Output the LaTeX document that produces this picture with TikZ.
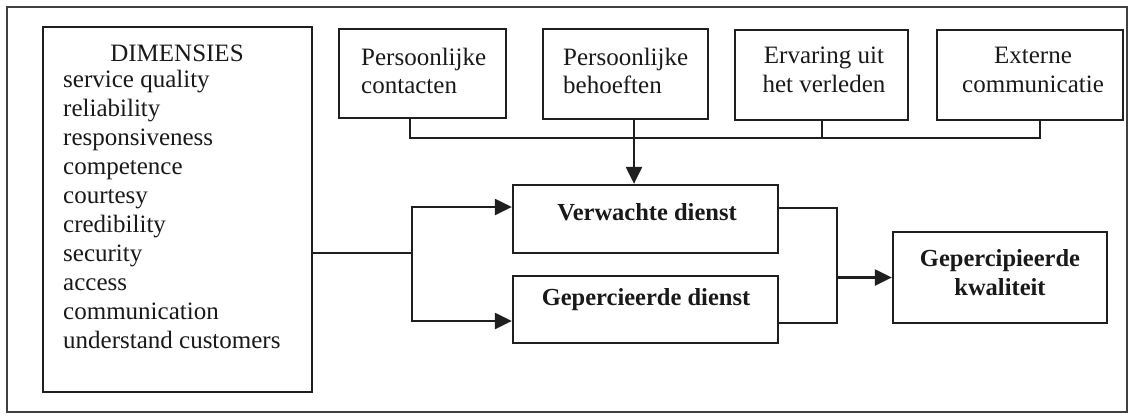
\documentclass[tikz,border=0pt]{standalone}
\usepackage{fontspec}
\setmainfont{Liberation Serif}
\usetikzlibrary{arrows.meta}
\begin{document}
\begin{tikzpicture}[x=1pt,y=-1pt,
  box/.style={draw=black!88,line width=2.3pt,rectangle,inner sep=0pt},
  txt/.style={inner sep=0pt,font=\fontsize{25}{28.5}\selectfont,text=black!90},
  btxt/.style={txt,font=\fontsize{24.5}{28.5}\selectfont\bfseries},
  link/.style={draw=black!88,line width=2.3pt},
  arr/.style={link,-{Triangle[length=17pt,width=16pt]}}]
\useasboundingbox (0,0) rectangle (1130,416);
% outer frame
\draw[draw=black!75,line width=2.3pt] (7,7) rectangle (1127,412);

% boxes
\node[box,minimum width=269pt,minimum height=365pt] (dim) at (177.5,209.5) {};
\node[box,minimum width=167pt,minimum height=89pt] (pc) at (422.5,73.5) {};
\node[box,minimum width=165pt,minimum height=90pt] (pb) at (625.5,74) {};
\node[box,minimum width=173pt,minimum height=90pt] (ev) at (821.5,75) {};
\node[box,minimum width=186pt,minimum height=90pt] (ec) at (1030,75) {};
\node[box,minimum width=265pt,minimum height=68pt] (vd) at (645.5,219) {};
\node[box,minimum width=265pt,minimum height=67pt] (gd) at (645.5,309.5) {};
\node[box,minimum width=214pt,minimum height=91pt] (gk) at (1000,277.5) {};

% texts
\node[txt,anchor=base] (dimhead) at (177,61.5) {DIMENSIES};
\foreach \t [count=\i from 0] in {service quality,reliability,responsiveness,competence,courtesy,credibility,security,access,communication,understand customers}
  \node[txt,anchor=base west] (dl\i) at (63,87.5+29*\i) {\t};
\node[txt,align=left,anchor=west] (pct) at (361,71) {Persoonlijke\\contacten};
\node[txt,align=left,anchor=west] (pbt) at (563,71) {Persoonlijke\\behoeften};
\node[txt,align=center] (evt) at (824,70) {Ervaring uit\\het verleden};
\node[txt,align=center] (ect) at (1033,70) {Externe\\communicatie};
\node[btxt] (vdt) at (647,212) {Verwachte dienst};
\node[btxt] (gdt) at (646,300) {Gepercieerde dienst};
\node[btxt,align=center] (gkt) at (1000,272.5) {Gepercipieerde\\kwaliteit};

% collecting line under the top boxes
\coordinate (busL) at (410,138);
\coordinate (busE) at (822,138);
\coordinate (busR) at (1040,138);
\draw[link] (pc.south -| busL) -- (busL) -- (busR) -- (ec.south -| busR);
\draw[link] (ev.south -| busE) -- (busE);
\coordinate (drop) at (634,150);
\draw[arr] (pb.south -| drop) -- (vd.north -| drop);

% split from the dimensions
\coordinate (split) at (412,253);
\draw[link] (dim.east |- split) -- (split);
\draw[arr] (split) |- ([yshift=12pt]vd.west);
\draw[arr] (split) |- ([yshift=-11.5pt]gd.west);

% merge into perceived quality
\coordinate (merge) at (837,277.5);
\draw[link] ([yshift=11pt]vd.east) -| (merge) |- ([yshift=-13.5pt]gd.east);
\draw[arr] (merge) -- (gk.west);
\end{tikzpicture}
\end{document}
